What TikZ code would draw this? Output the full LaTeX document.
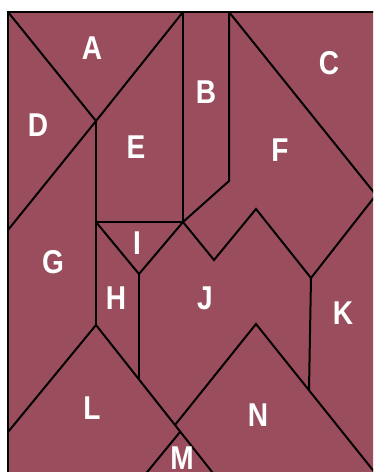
\documentclass[tikz,border=0pt]{standalone}
\usepackage{fontspec}
\setmainfont{Liberation Sans}[FakeStretch=0.85]
\usetikzlibrary{positioning}
\definecolor{Wine}{HTML}{9A4D5D}

\begin{document}
\begin{tikzpicture}[x=1pt, y=-1pt, line width=2pt, line join=miter,
    cut/.style={draw=black, line width=2pt},
    tag/.style={text=white, font=\fontsize{33}{33}\selectfont\bfseries, inner sep=0pt}]
    \useasboundingbox (0,0) rectangle (373,472);
    \clip (0,0) rectangle (373,472);
    % board
    \fill[Wine] (8,12) rectangle (390,490);
    % corners of the pieces
    \coordinate (tl) at (8,12);
    \coordinate (topA) at (183,12);
    \coordinate (topB) at (229,12);
    \coordinate (ad) at (96,121);
    \coordinate (dg) at (8,230);
    \coordinate (el) at (96,222);
    \coordinate (er) at (183,222);
    \coordinate (bk) at (229,181);
    \coordinate (cf) at (376,195);
    \coordinate (fk) at (311,278);
    \coordinate (z1) at (214,260);
    \coordinate (z2) at (256,209);
    \coordinate (ih) at (139,274);
    \coordinate (hl) at (139,380);
    \coordinate (gl) at (96,325);
    \coordinate (gle) at (8,432);
    \coordinate (ml) at (220,482);
    \coordinate (nt) at (256,324);
    \coordinate (jn) at (175,425);
    \coordinate (mt) at (180,432);
    \coordinate (mb) at (139,482);
    \coordinate (kn) at (309,390);
    \coordinate (nr) at (384,484);
    % cuts
    \draw[cut] (8,490) -- (tl) -- (390,12);
    \draw[cut] (tl) -- (ad) -- (topA);
    \draw[cut] (ad) -- (dg);
    \draw[cut] (ad) -- (el) -- (gl);
    \draw[cut] (el) -- (er) -- (topA);
    \draw[cut] (topB) -- (bk) -- (er);
    \draw[cut] (topB) -- (cf) -- (fk);
    \draw[cut] (er) -- (z1) -- (z2) -- (fk) -- (kn);
    \draw[cut] (el) -- (ih) -- (er);
    \draw[cut] (ih) -- (hl);
    \draw[cut] (gle) -- (gl) -- (ml);
    \draw[cut] (jn) -- (nt) -- (nr);
    \draw[cut] (mt) -- (mb);
    % labels
    \node[tag] (lA) at (92,48) {A};
    \node[tag] (lB) at (206,92) {B};
    \node[tag] (lC) at (329,63) {C};
    \node[tag] (lD) at (38,125) {D};
    \node[tag] (lE) at (136,147) {E};
    \node[tag] (lF) at (280,150) {F};
    \node[tag] (lG) at (53,262) {G};
    \node[tag] (lH) at (116,298) {H};
    \node[tag] (lI) at (137,243) {I};
    \node[tag] (lJ) at (205,298) {J};
    \node[tag] (lK) at (343,313) {K};
    \node[tag] (lL) at (92,408) {L};
    \node[tag] (lM) at (182,458) {M};
    \node[tag] (lN) at (258,415) {N};
  \end{tikzpicture}
\end{document}
